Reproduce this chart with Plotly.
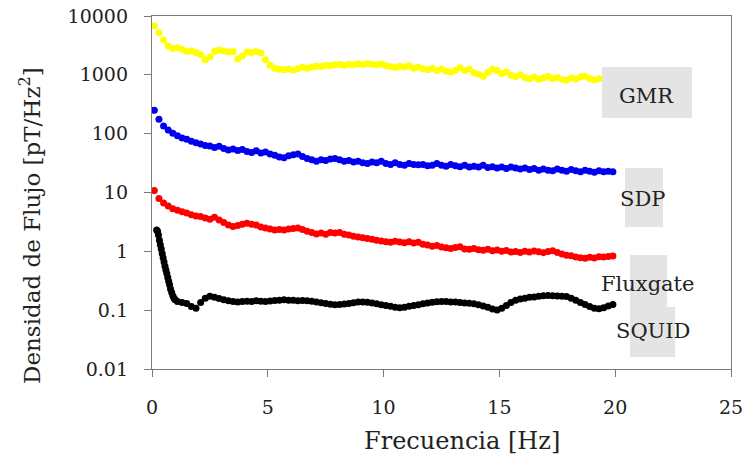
import plotly.graph_objects as go

# Frequency grid (Hz), 0.2 Hz spacing
freq = [round(0.1 + 0.2 * i, 1) for i in range(100)]

# Noise spectral density for each sensor [pT/Hz^2]
gmr = [
    6800, 5200, 3900, 3100, 2800, 2900, 2700, 2500, 2550, 2400,
    2200, 1800, 2000, 2500, 2650, 2550, 2450, 2500, 1850, 2100,
    2450, 2400, 2500, 2350, 1800, 1450, 1300, 1250, 1220, 1260,
    1200, 1280, 1340, 1300, 1360, 1400, 1380, 1450, 1420, 1480,
    1500, 1460, 1520, 1480, 1540, 1500, 1560, 1520, 1480, 1530,
    1420, 1380, 1330, 1400, 1360, 1420, 1300, 1350, 1270, 1220,
    1300, 1180, 1260, 1150, 1120, 1200, 1320, 1180, 1250, 1080,
    1020, 950, 1100, 1250, 1180, 1050, 1120, 980, 940, 1000,
    900, 860, 920, 840, 880, 950, 860, 900, 830, 810,
    880, 850, 930, 950, 870, 820, 860,
]

sdp = [
    250, 175, 135, 115, 102, 92, 84, 80, 74, 70,
    67, 63, 62, 58, 61, 56, 53, 55, 52, 54,
    50, 48, 51, 47, 49, 45, 43, 40, 39, 42,
    44, 45, 41, 38, 36, 34, 36, 35, 37, 38,
    36, 34, 35, 33, 34, 32, 31, 33, 32, 34,
    31, 30, 32, 30, 29, 31, 30, 29.5, 30, 28.5,
    29, 31, 29, 28, 30, 28.5, 27.5, 29, 27, 28,
    27, 29, 26.5, 27.5, 26, 27, 25.5, 27, 26, 25,
    26, 24.5, 25.5, 24, 25, 24, 23.5, 25, 24, 23,
    24.5, 23.5, 22.5, 24, 23, 22, 23.5, 22.5, 23, 22.5,
]

fluxgate = [
    10.8, 7.9, 6.6, 5.9, 5.3, 5.0, 4.7, 4.5, 4.2, 4.0,
    3.9, 3.7, 3.5, 3.8, 3.4, 3.1, 2.8, 2.65, 2.75, 2.9,
    3.0, 2.9, 2.8, 2.6, 2.5, 2.4, 2.3, 2.35, 2.3, 2.4,
    2.45, 2.5, 2.35, 2.2, 2.1, 1.98, 2.05, 1.95, 2.1, 2.05,
    2.1, 1.95, 1.9, 1.8, 1.75, 1.7, 1.65, 1.6, 1.55, 1.5,
    1.45, 1.42, 1.48, 1.44, 1.4, 1.46, 1.38, 1.42, 1.32, 1.28,
    1.22, 1.26, 1.18, 1.15, 1.12, 1.16, 1.2, 1.1, 1.08, 1.12,
    1.06, 1.04, 1.08, 1.02, 1.05, 1.0, 1.03, 0.97, 0.99, 0.96,
    1.0, 0.97, 1.01, 0.98, 0.95, 0.99, 1.02, 0.96, 0.9, 0.86,
    0.84, 0.8, 0.78, 0.76, 0.79, 0.77, 0.81, 0.8, 0.82, 0.83,
]

# SQUID is sampled more finely during its initial roll-off
squid_onset_freq = [0.20, 0.24, 0.28, 0.32, 0.36, 0.40, 0.44, 0.48, 0.52, 0.56,
                    0.60, 0.64, 0.68, 0.72, 0.76, 0.80, 0.85, 0.90, 0.95, 1.00]
squid_freq = squid_onset_freq + freq[5:]
squid = [
    2.3, 2.2, 1.9, 1.55, 1.3, 1.1, 0.92, 0.78, 0.66, 0.56,
    0.48, 0.42, 0.36, 0.31, 0.27, 0.23, 0.2, 0.175, 0.16, 0.15,
    0.14, 0.135, 0.13, 0.115, 0.108,
    0.135, 0.16, 0.172, 0.165, 0.158, 0.15, 0.145, 0.14, 0.138, 0.14,
    0.142, 0.14, 0.145, 0.142, 0.14, 0.143, 0.146, 0.148, 0.15, 0.148,
    0.147, 0.145, 0.146, 0.144, 0.142, 0.138, 0.134, 0.13, 0.126, 0.124,
    0.125, 0.127, 0.13, 0.134, 0.137, 0.138, 0.136, 0.132, 0.128, 0.124,
    0.12, 0.116, 0.112, 0.11, 0.112, 0.116, 0.12, 0.124, 0.128, 0.132,
    0.136, 0.139, 0.141, 0.14, 0.138, 0.137, 0.135, 0.133, 0.131, 0.128,
    0.124, 0.118, 0.112, 0.105, 0.101, 0.108, 0.12, 0.135, 0.148, 0.155,
    0.16, 0.165, 0.168, 0.172, 0.176, 0.178, 0.176, 0.174, 0.172, 0.17,
    0.16, 0.148, 0.135, 0.125, 0.115, 0.108, 0.106, 0.11, 0.118, 0.125,
]

y_tickvals = [0.01, 0.1, 1, 10, 100, 1000, 10000]
y_ticktext = ["0.01", "0.1", "1", "10", "100", "1000", "10000"]
x_tickvals = [0, 5, 10, 15, 20, 25]

series = [
    ("GMR", freq, gmr, "#ffff00"),
    ("SDP", freq, sdp, "#0000ee"),
    ("Fluxgate", freq, fluxgate, "#ff0000"),
    ("SQUID", squid_freq, squid, "#000000"),
]

SERIF = "DejaVu Serif"

fig = go.Figure()
for name, xs, ys, color in series:
    fig.add_trace(go.Scatter(
        x=xs[:len(ys)], y=ys, mode="markers", name=name,
        marker=dict(size=7, color=color, line=dict(width=0)),
    ))

W, H = 743, 463
ML, MR, MT, MB = 152, 12, 16, 94
PW, PH = W - ML - MR, H - MT - MB


def px(x):
    return (x - ML) / PW


def py(y):
    return (H - MB - y) / PH


# grey label boxes: (text, box x0, x1, y0, y1, text cx, cy) in pixels
labels = [
    ("GMR", 602, 692, 67, 118, 646, 96),
    ("SDP", 625, 663, 168, 227, 642, 199),
    ("Fluxgate", 630, 667, 255, 307, 648, 284),
    ("SQUID", 630, 675, 307, 357, 653, 331),
]
for text, x0, x1, y0, y1, cx, cy in labels:
    fig.add_shape(type="rect", xref="paper", yref="paper",
                  x0=px(x0), x1=px(x1), y0=py(y1), y1=py(y0),
                  fillcolor="#e4e4e4", line=dict(width=0), layer="below")
    fig.add_annotation(text=text, xref="paper", yref="paper",
                       x=px(cx), y=py(cy), xanchor="center", yanchor="middle",
                       showarrow=False,
                       font=dict(family=SERIF, size=21, color="#222222"))

# axis titles
fig.add_annotation(text="Frecuencia [Hz]", xref="paper", yref="paper",
                   x=px(462), y=py(441), xanchor="center", yanchor="middle",
                   showarrow=False, font=dict(family=SERIF, size=24, color="#222222"))
fig.add_annotation(text="Densidad de Flujo [pT/Hz<sup>2</sup>]", xref="paper", yref="paper",
                   x=px(30), y=py(226), xanchor="center", yanchor="middle",
                   textangle=-90, showarrow=False,
                   font=dict(family=SERIF, size=23, color="#222222"))

axis_common = dict(
    showline=True, linecolor="#7a7a7a", linewidth=1.3, mirror=True,
    showgrid=False, zeroline=False, ticks="outside", ticklen=7,
    tickcolor="#7a7a7a", tickwidth=1.3, automargin=False,
    ticklabeloverflow="allow",
    tickfont=dict(family=SERIF, size=19, color="#222222"),
)

fig.update_xaxes(range=[0, 25], tickvals=x_tickvals, ticklabelstandoff=14, **axis_common)
fig.update_yaxes(type="log", range=[-2, 4], tickvals=y_tickvals, ticktext=y_ticktext,
                 ticklabelstandoff=12, **axis_common)

fig.update_layout(
    width=W, height=H, showlegend=False,
    margin=dict(l=ML, r=MR, t=MT, b=MB, autoexpand=False),
    plot_bgcolor="white", paper_bgcolor="white",
)

fig.write_html("out.html")
